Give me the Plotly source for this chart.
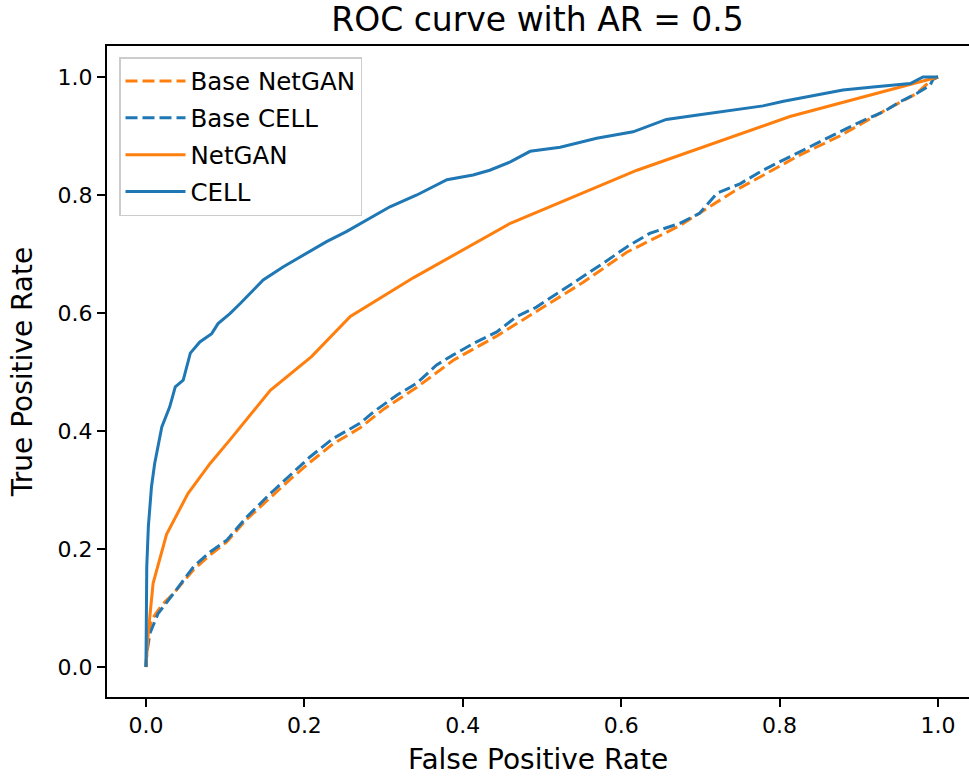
import plotly.graph_objects as go

# ---- data ----
base_netgan_fpr = [0, 0.002, 0.007, 0.02, 0.035, 0.06, 0.081, 0.102, 0.127, 0.157, 0.182, 0.207, 0.236,
                   0.27, 0.3, 0.342, 0.388, 0.443, 0.493, 0.552, 0.607, 0.674, 0.742, 0.826, 0.876,
                   0.931, 0.973, 0.99, 1.0]
base_netgan_tpr = [0, 0.05, 0.08, 0.105, 0.125, 0.165, 0.19, 0.212, 0.25, 0.288, 0.318, 0.347, 0.378,
                   0.405, 0.437, 0.474, 0.52, 0.561, 0.603, 0.652, 0.703, 0.748, 0.806, 0.868, 0.9,
                   0.942, 0.972, 0.993, 1.0]

base_cell_fpr = [0, 0.001, 0.005, 0.015, 0.035, 0.06, 0.081, 0.102, 0.127, 0.157, 0.182, 0.207, 0.236,
                 0.27, 0.287, 0.317, 0.342, 0.367, 0.388, 0.413, 0.443, 0.468, 0.493, 0.519, 0.552,
                 0.577, 0.607, 0.636, 0.674, 0.699, 0.721, 0.75, 0.779, 0.813, 0.847, 0.876, 0.91,
                 0.931, 0.952, 0.973, 0.99, 0.994, 1.0]
base_cell_tpr = [0, 0.023, 0.057, 0.09, 0.125, 0.17, 0.195, 0.215, 0.254, 0.294, 0.325, 0.356, 0.387,
                 0.413, 0.432, 0.461, 0.481, 0.512, 0.529, 0.548, 0.568, 0.594, 0.61, 0.633, 0.661,
                 0.684, 0.712, 0.735, 0.752, 0.769, 0.803, 0.819, 0.842, 0.865, 0.887, 0.907, 0.929,
                 0.941, 0.958, 0.972, 0.986, 0.997, 1.0]

netgan_fpr = [0, 0.003, 0.009, 0.018, 0.026, 0.053, 0.081, 0.106, 0.157, 0.209, 0.258, 0.338, 0.46,
              0.62, 0.813, 1.0]
netgan_tpr = [0, 0.06, 0.142, 0.187, 0.225, 0.294, 0.345, 0.385, 0.469, 0.526, 0.594, 0.66, 0.752,
              0.842, 0.933, 1.0]

cell_fpr = [0, 0.001, 0.003, 0.007, 0.011, 0.02, 0.03, 0.037, 0.047, 0.056, 0.068, 0.083, 0.091,
            0.106, 0.119, 0.148, 0.173, 0.203, 0.228, 0.253, 0.279, 0.308, 0.342, 0.38, 0.413,
            0.434, 0.46, 0.485, 0.523, 0.569, 0.615, 0.657, 0.699, 0.742, 0.779, 0.805, 0.847,
            0.88, 0.918, 0.965, 0.981, 1.0]
cell_tpr = [0, 0.17, 0.238, 0.306, 0.345, 0.407, 0.441, 0.475, 0.486, 0.532, 0.551, 0.565, 0.582,
            0.599, 0.616, 0.656, 0.678, 0.701, 0.721, 0.738, 0.758, 0.78, 0.8, 0.826, 0.834,
            0.842, 0.856, 0.874, 0.881, 0.896, 0.907, 0.928, 0.936, 0.944, 0.951, 0.959, 0.97,
            0.978, 0.983, 0.989, 1.0, 1.0]

tick_vals = [0.0, 0.2, 0.4, 0.6, 0.8, 1.0]
tick_text = ["0.0", "0.2", "0.4", "0.6", "0.8", "1.0"]

ORANGE = "#ff7f0e"
BLUE = "#1f77b4"
FONT = "DejaVu Sans"

fig = go.Figure()
fig.add_trace(go.Scatter(x=base_netgan_fpr, y=base_netgan_tpr, mode="lines", name="Base NetGAN",
                         legendgroup="a", line=dict(color=ORANGE, width=3, dash="12px,5px")))
fig.add_trace(go.Scatter(x=base_cell_fpr, y=base_cell_tpr, mode="lines", name="Base CELL",
                         legendgroup="b", line=dict(color=BLUE, width=3, dash="12px,5px")))
fig.add_trace(go.Scatter(x=netgan_fpr, y=netgan_tpr, mode="lines", name="NetGAN",
                         legendgroup="c", line=dict(color=ORANGE, width=3)))
fig.add_trace(go.Scatter(x=cell_fpr, y=cell_tpr, mode="lines", name="CELL",
                         legendgroup="d", line=dict(color=BLUE, width=3)))

fig.update_layout(
    width=969, height=776,
    margin=dict(l=107, r=0, t=46, b=79),
    paper_bgcolor="white", plot_bgcolor="white",
    font=dict(family=FONT, color="black"),
    title=dict(text="ROC curve with AR = 0.5", font=dict(size=33, family=FONT, color="black"),
               x=537.5 / 969, xanchor="center", xref="container",
               y=1 - 19 / 776, yanchor="middle", yref="container"),
    showlegend=True,
    legend=dict(x=(119 - 107) / 862, y=(697 - 57) / 651, xanchor="left", yanchor="top",
                bgcolor="white", bordercolor="#cccccc", borderwidth=1.5,
                font=dict(size=24.5, family=FONT, color="black"),
                traceorder="grouped", tracegroupgap=2, itemwidth=60),
    xaxis=dict(range=[-0.0492, 1.0391], tickvals=tick_vals, ticktext=tick_text,
               showgrid=False, zeroline=False, showline=True, mirror=True,
               linecolor="black", linewidth=2, ticks="outside", ticklen=8, tickwidth=2,
               tickcolor="black", tickfont=dict(size=22, family=FONT, color="black"),
               title=dict(text="False Positive Rate", font=dict(size=28, family=FONT, color="black"),
                          standoff=13)),
    yaxis=dict(range=[-0.0508, 1.0525], tickvals=tick_vals, ticktext=tick_text,
               showgrid=False, zeroline=False, showline=True, mirror=False,
               linecolor="black", linewidth=2, ticks="outside", ticklen=8, tickwidth=2,
               tickcolor="black", tickfont=dict(size=22, family=FONT, color="black"),
               title=dict(text="True Positive Rate", font=dict(size=28, family=FONT, color="black"),
                          standoff=17)),
)

fig.write_html("out.html")
